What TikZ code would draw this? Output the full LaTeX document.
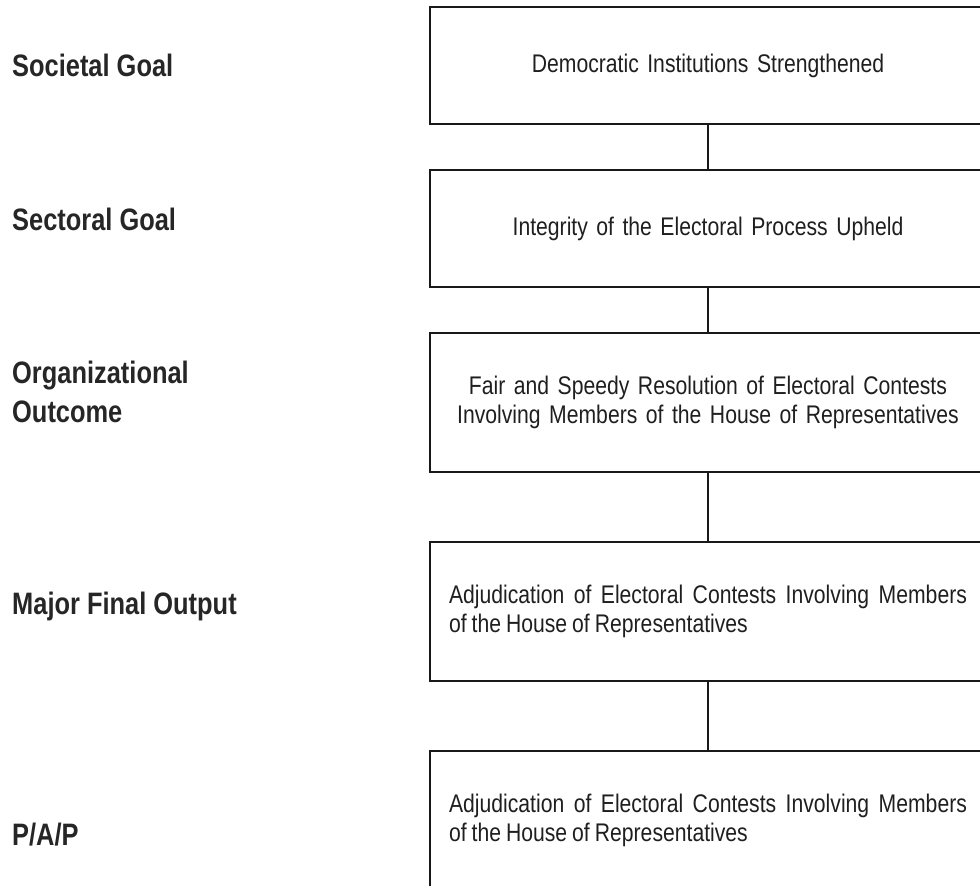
\documentclass[tikz,border=0pt]{standalone}
\usepackage{fontspec}
\newfontfamily\boxfont[FakeStretch=0.83,WordSpace=0.85]{Liberation Sans}
\newfontfamily\labfont[FakeStretch=0.82]{Liberation Sans}
\begin{document}
\begin{tikzpicture}[x=1pt,y=-1pt,
  level/.style={draw=black!90, line width=1.3pt, minimum width=556pt, inner xsep=19pt, inner ysep=0pt,
    text width=518pt, font=\boxfont\fontsize{25.5}{29}\selectfont, text=black!88},
  shortlevel/.style={level, minimum height=117pt},
  talllevel/.style={level, minimum height=139pt},
  lab/.style={inner sep=0pt, font=\labfont\bfseries\fontsize{31}{39}\selectfont, align=left, text=black!85},
  link/.style={draw=black!90, line width=1.2pt}]
\clip (0,0) rectangle (980,886);
\node[shortlevel, align=center] (b1) at (708,65.5) {Democratic Institutions Strengthened};
\node[shortlevel, align=center] (b2) at (708,228.5) {Integrity of the Electoral Process Upheld};
\node[talllevel, align=center] (b3) at (708,402.5) {Fair and Speedy Resolution of Electoral Contests\\Involving Members of the House of Representatives};
\node[talllevel, align=justify] (b4) at (708,611.5) {Adjudication of Electoral Contests Involving Members\linebreak of the House of Representatives};
\node[talllevel, align=justify] (b5) at (708,820.5) {Adjudication of Electoral Contests Involving Members\linebreak of the House of Representatives};
\draw[link] (b1.south) -- (b2.north);
\draw[link] (b2.south) -- (b3.north);
\draw[link] (b3.south) -- (b4.north);
\draw[link] (b4.south) -- (b5.north);
\node[lab, anchor=base west] (l1) at (12,76) {Societal Goal};
\node[lab, anchor=base west] (l2) at (12,230) {Sectoral Goal};
\node[lab, anchor=west] (l3) at (12,391.5) {Organizational\\Outcome};
\node[lab, anchor=base west] (l4) at (12,614) {Major Final Output};
\node[lab, anchor=base west] (l5) at (12,845) {P/A/P};
\end{tikzpicture}
\end{document}
